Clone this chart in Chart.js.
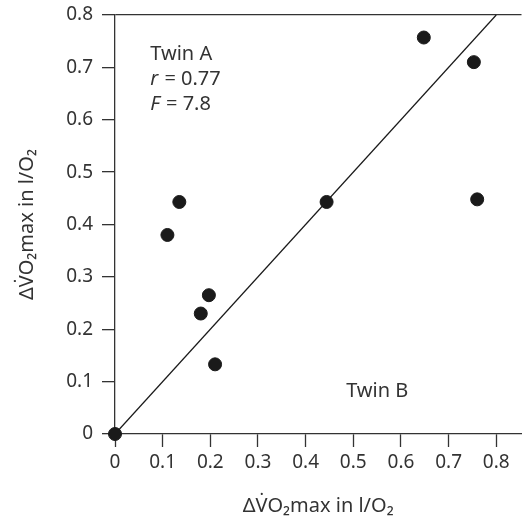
<!DOCTYPE html>
<html>
<head>
<meta charset="utf-8">
<script src="https://cdn.jsdelivr.net/npm/chart.js@4.4.1/dist/chart.umd.min.js"></script>
<style>
  html, body { margin: 0; padding: 0; background: #fff; }
  canvas { display: block; }
</style>
</head>
<body>
<canvas id="c" width="529" height="519"></canvas>
<script>
// ---- data ----
const twinB = [0, 0.11, 0.135, 0.18, 0.197, 0.21, 0.444, 0.648, 0.753, 0.76];
const twinA = [0, 0.38, 0.443, 0.23, 0.265, 0.133, 0.443, 0.757, 0.71, 0.448];
const lineX = [0, 0.8];
const lineY = [0, 0.8];
const xTickValues = [0, 0.1, 0.2, 0.3, 0.4, 0.5, 0.6, 0.7, 0.8];
const yTickValues = [0, 0.1, 0.2, 0.3, 0.4, 0.5, 0.6, 0.7, 0.8];
const xTitle = 'ΔV\u0307O\u2082max in l/O\u2082';
const yTitle = 'ΔV\u0307O\u2082max in l/O\u2082';
const labelA = ['Twin A', ['r', ' = 0.77'], ['F', ' = 7.8']];
const labelB = 'Twin B';

const FONT = '"Noto Sans", "Open Sans", sans-serif';
const INK = '#333';

const fmt = v => (v === 0 ? '0' : v.toFixed(1));

const textPlugin = {
  id: 'texts',
  afterDatasetsDraw(chart) {
    const { ctx } = chart;
    const xs = chart.scales.x, ys = chart.scales.y;
    ctx.save();
    ctx.fillStyle = INK;
    ctx.textBaseline = 'alphabetic';
    ctx.textAlign = 'left';
    const x0 = xs.getPixelForValue(0.074);
    let y0 = ys.getPixelForValue(0.714);
    ctx.font = '20px ' + FONT;
    ctx.fillText(labelA[0], x0, y0);
    for (let i = 1; i < labelA.length; i++) {
      y0 += 25;
      ctx.font = 'italic 20px ' + FONT;
      ctx.fillText(labelA[i][0], x0, y0);
      const w = ctx.measureText(labelA[i][0]).width;
      ctx.font = '20px ' + FONT;
      ctx.fillText(labelA[i][1], x0 + w + 1, y0);
    }
    ctx.font = '20px ' + FONT;
    ctx.fillText(labelB, xs.getPixelForValue(0.485), ys.getPixelForValue(0.07));
    ctx.restore();
  }
};

new Chart(document.getElementById('c'), {
  type: 'scatter',
  data: {
    datasets: [
      {
        label: 'fit',
        type: 'line',
        data: lineX.map((x, i) => ({ x, y: lineY[i] })),
        borderColor: '#1a1a1a',
        borderWidth: 1.2,
        pointRadius: 0,
        fill: false,
        clip: false,
        order: 2
      },
      {
        label: 'twins',
        data: twinB.map((x, i) => ({ x, y: twinA[i] })),
        backgroundColor: '#1a1a1a',
        borderColor: '#1a1a1a',
        pointRadius: 6.5,
        clip: false,
        order: 1
      }
    ]
  },
  options: {
    responsive: false,
    animation: false,
    events: [],
    layout: { padding: { top: 15, right: 0, left: 0, bottom: 0 } },
    plugins: { legend: { display: false }, tooltip: { enabled: false } },
    scales: {
      x: {
        type: 'linear',
        min: 0,
        max: 0.853,
        afterBuildTicks: s => { s.ticks = xTickValues.map(v => ({ value: v })); },
        afterFit: s => { s.height = 85; s.paddingLeft = 0; s.paddingRight = 0; },
        ticks: {
          color: INK,
          font: { family: FONT, size: 19 },
          padding: 4,
          maxRotation: 0,
          autoSkip: false,
          callback: v => fmt(v)
        },
        grid: { drawOnChartArea: false, drawTicks: true, tickLength: 13, tickColor: INK, tickWidth: 1.3 },
        border: { display: true, color: INK, width: 1.3 },
        title: {
          display: true,
          text: xTitle,
          color: INK,
          font: { family: FONT, size: 20 },
          padding: { top: 0, bottom: 1 }
        }
      },
      y: {
        type: 'linear',
        min: 0,
        max: 0.8,
        afterBuildTicks: s => { s.ticks = yTickValues.map(v => ({ value: v })); },
        afterFit: s => { s.width = 115; s.paddingTop = 0; s.paddingBottom = 0; },
        ticks: {
          color: INK,
          font: { family: FONT, size: 19 },
          padding: 9,
          autoSkip: false,
          callback: v => fmt(v)
        },
        grid: {
          drawOnChartArea: true,
          drawTicks: true,
          tickLength: 13,
          tickColor: INK,
          tickWidth: 1.3,
          lineWidth: 1.3,
          color: c => (c.tick && Math.abs(c.tick.value - 0.8) < 1e-6 ? INK : 'rgba(0,0,0,0)')
        },
        border: { display: true, color: INK, width: 1.3 },
        title: {
          display: true,
          text: yTitle,
          color: INK,
          font: { family: FONT, size: 20 },
          padding: { top: 15, bottom: 0 }
        }
      }
    }
  },
  plugins: [textPlugin]
});
</script>
</body>
</html>
